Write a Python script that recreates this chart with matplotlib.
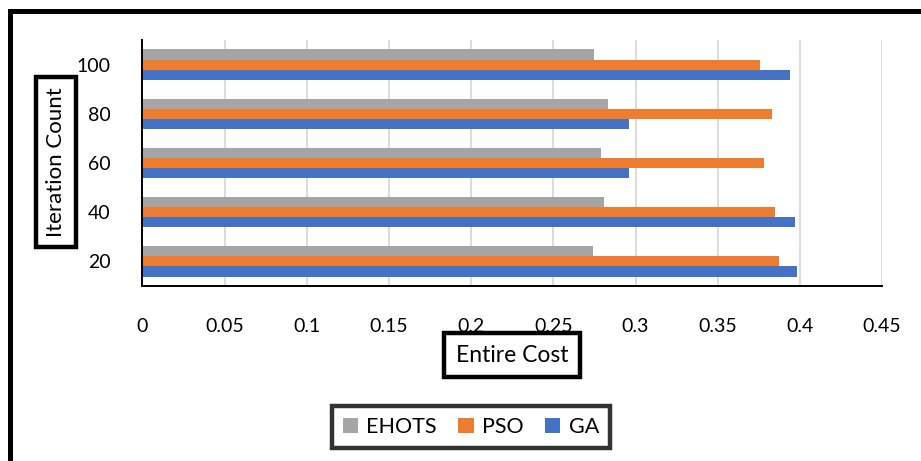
import numpy as np
import matplotlib.pyplot as plt
from matplotlib.patches import Rectangle

plt.rcParams['font.family'] = ['Lato', 'DejaVu Sans']

iterations = ['20', '40', '60', '80', '100']
ga = [0.398, 0.397, 0.296, 0.296, 0.394]
pso = [0.387, 0.385, 0.378, 0.383, 0.376]
ehots = [0.274, 0.281, 0.279, 0.283, 0.275]

F = 14
fig = plt.figure(figsize=(9.21, 4.61), dpi=100)
ax = fig.add_axes([0.1547, 0.3796, 0.803, 0.5336])

y = np.arange(len(iterations))
h = 0.207
ax.barh(y - h, ga, h, color='#4472C4', label='GA', zorder=3)
ax.barh(y, pso, h, color='#ED7D31', label='PSO', zorder=3)
ax.barh(y + h, ehots, h, color='#A5A5A5', label='EHOTS', zorder=3)

ax.set_xlim(0, 0.45)
ax.set_ylim(-0.5, 4.5)
ax.set_xticks(np.arange(0, 0.451, 0.05))
ax.set_xticklabels(['0', '0.05', '0.1', '0.15', '0.2', '0.25', '0.3', '0.35', '0.4', '0.45'])
ax.set_yticks(y)
ax.set_yticklabels(iterations)
ax.tick_params(axis='both', length=0, labelsize=F)
ax.tick_params(axis='x', pad=23)
ax.tick_params(axis='y', pad=23)
ax.grid(axis='x', color='#d9d9d9', lw=1.3, zorder=0)

for side in ['top', 'right']:
    ax.spines[side].set_visible(False)
for side in ['left', 'bottom']:
    ax.spines[side].set_color('black')
    ax.spines[side].set_linewidth(1.4)
    ax.spines[side].set_zorder(4)

box = dict(boxstyle='square,pad=0.5', fc='white', ec='black', lw=3.2)
ax.set_xlabel('Entire Cost', fontsize=16.5, bbox=box, va='center')
ax.xaxis.set_label_coords((512 - 142.5) / 739.5, (286 - 355) / 246)
ybox = dict(boxstyle='square,pad=0.45', fc='white', ec='black', lw=3.2)
ax.set_ylabel('Iteration Count', fontsize=16, bbox=ybox, va='center')
ax.yaxis.set_label_coords((56 - 142.5) / 739.5, (286 - 162) / 246)

hnd, lab = ax.get_legend_handles_labels()
leg = fig.legend(hnd[::-1], lab[::-1], loc='center', bbox_to_anchor=(0.5114, 0.0738),
                 ncol=3, fontsize=15.5, frameon=True, fancybox=False,
                 handlelength=0.7, handleheight=0.7, handletextpad=0.4,
                 columnspacing=1.0, borderpad=0.5)
leg.get_frame().set_edgecolor('black')
leg.get_frame().set_linewidth(3.2)

# outer frame, runs off the right and bottom edges
fig.patches.append(Rectangle((10 / 921, -0.1), 1.2, 1 - 11.5 / 461 + 0.1,
                             transform=fig.transFigure, fill=False,
                             ec='black', lw=3.6))

fig.savefig('out.png', dpi=100)
